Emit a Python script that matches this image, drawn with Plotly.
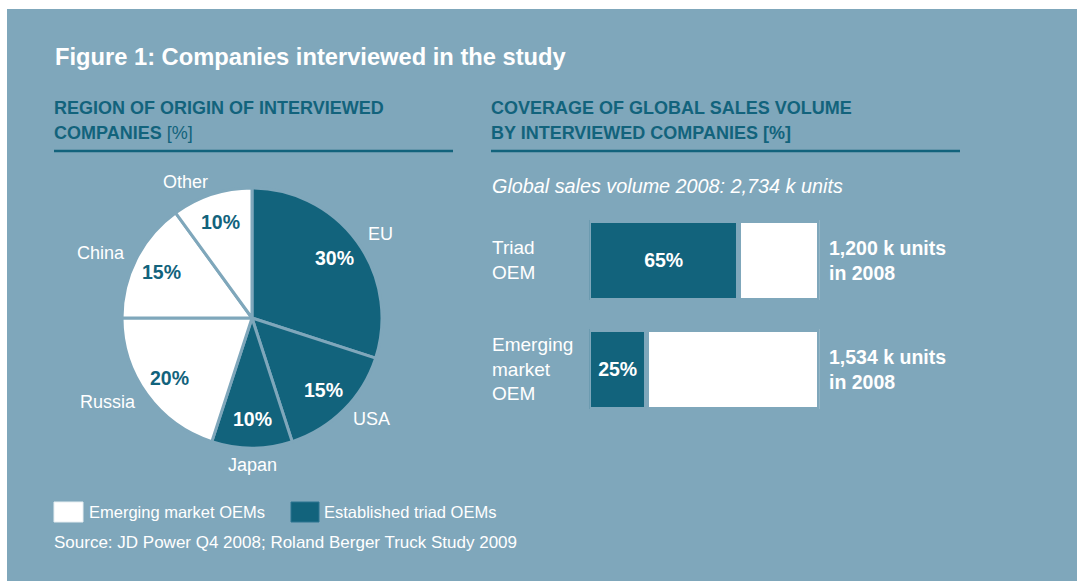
import math
import plotly.graph_objects as go

W, H = 1077, 581

# ---------------- data ----------------
regions = ["EU", "USA", "Japan", "Russia", "China", "Other"]
region_share = [30, 15, 10, 20, 15, 10]
region_group = ["triad", "triad", "triad", "emerging", "emerging", "emerging"]

oem_types = ["Emerging<br>market<br>OEM", "Triad<br>OEM"]
coverage_pct = [25, 65]
sales_k_units = [1534, 1200]
sales_year = 2008

legend_labels = ["Emerging market OEMs", "Established triad OEMs"]
legend_groups = ["emerging", "triad"]

title_text = "Figure 1: Companies interviewed in the study"
left_heading = ["REGION OF ORIGIN OF INTERVIEWED", "COMPANIES <span style='font-weight:normal'>[%]</span>"]
right_heading = ["COVERAGE OF GLOBAL SALES VOLUME", "BY INTERVIEWED COMPANIES [%]"]
source_text = "Source: JD Power Q4 2008; Roland Berger Truck Study 2009"

# ---------------- style ----------------
BG = "#7fa7bb"
DARK = "#12637c"
WHITE = "#ffffff"
FONT = "Liberation Sans, Arial, sans-serif"


def px(x):
    return x / W


def py(y):
    return 1 - y / H


group_color = {"triad": DARK, "emerging": WHITE}
slice_colors = [group_color[g] for g in region_group]
text_colors = [WHITE if g == "triad" else DARK for g in region_group]

CX, CY, R = 252, 318, 130

fig = go.Figure()

fig.add_trace(go.Pie(
    labels=regions, values=region_share, sort=False, direction="clockwise", rotation=0,
    marker=dict(colors=slice_colors, line=dict(color=BG, width=3)),
    textinfo="none", hoverinfo="label+percent", showlegend=False,
    domain=dict(x=[px(CX - R), px(CX + R)], y=[py(CY + R), py(CY - R)]),
))

# bars
XL, XR = 589.2, 819.8
YB, YT = 423.5, 205.5
fig.add_trace(go.Bar(
    y=oem_types, x=coverage_pct, orientation="h", width=0.734,
    marker=dict(color=DARK, line=dict(color=BG, width=5)),
    text=[f"<b>{v}%</b>" for v in coverage_pct], textposition="inside",
    insidetextanchor="middle", constraintext="none",
    textfont=dict(color=WHITE, size=19.5, family=FONT),
    showlegend=False, hoverinfo="x",
))
fig.add_trace(go.Bar(
    y=oem_types, x=[100 - v for v in coverage_pct], orientation="h", width=0.734,
    marker=dict(color=WHITE, line=dict(color=BG, width=5)),
    showlegend=False, hoverinfo="skip",
))

annotations = []
PAD = 2  # annotation inner padding in px


def ann(text, x, y, size, color=WHITE, xanchor="left", yanchor="middle", xref="paper", yref="paper", align="left"):
    xs = -PAD if xanchor == "left" else (PAD if xanchor == "right" else 0)
    annotations.append(dict(text=text, x=x, y=y, xref=xref, yref=yref, xanchor=xanchor, yanchor=yanchor,
                            xshift=xs, showarrow=False, align=align,
                            font=dict(family=FONT, size=size, color=color)))


# pie labels computed from slice angles
total = sum(region_share)
cum = 0
for name, v, tc in zip(regions, region_share, text_colors):
    mid = (cum + v / 2) / total * 2 * math.pi
    cum += v
    s, c = math.sin(mid), math.cos(mid)
    ann(f"<b>{v}%</b>", px(CX + 0.78 * R * s), py(CY - 0.78 * R * c), 19.5, color=tc, xanchor="center")
    ro = 1.1 * R
    xa = "left" if s > 0.2 else ("right" if s < -0.2 else "center")
    ann(name, px(CX + ro * s), py(CY - ro * c + (4 if xa == "center" else 0)), 18, xanchor=xa)

# bar labels
for cat, units in zip(oem_types, sales_k_units):
    ann(cat, px(492), cat, 19, yref="y")
    ann(f"<b>{units:,} k units<br>in {sales_year}</b>", px(829), cat, 19.5, yref="y")

# texts
ann(f"<b>{title_text}</b>", px(55), py(57), 23.7)
ann(f"<b>{left_heading[0]}</b>", px(54), py(108), 18, color=DARK)
ann(f"<b>{left_heading[1]}</b>", px(54), py(132.5), 18, color=DARK)
ann(f"<b>{right_heading[0]}</b>", px(491), py(108), 18, color=DARK)
ann(f"<b>{right_heading[1]}</b>", px(491), py(132.5), 18, color=DARK)
ann(f"<i>Global sales volume {sales_year}: {sum(sales_k_units):,} k units</i>", px(492), py(186), 19.8)
ann(source_text, px(54), py(542), 17)

shapes = [
    dict(type="rect", xref="paper", yref="paper", x0=px(7), x1=px(1077), y0=py(581), y1=py(9),
         fillcolor=BG, line=dict(width=0), layer="below"),
    dict(type="line", xref="paper", yref="paper", x0=px(54), x1=px(453), y0=py(151), y1=py(151),
         line=dict(color=DARK, width=2.5)),
    dict(type="line", xref="paper", yref="paper", x0=px(491), x1=px(960), y0=py(151), y1=py(151),
         line=dict(color=DARK, width=2.5)),
]

# legend swatches
legend_x = [(54, 83, 89), (291, 319, 324)]
for (x0, x1, xt), lab, g in zip(legend_x, legend_labels, legend_groups):
    shapes.append(dict(type="rect", xref="paper", yref="paper", x0=px(x0), x1=px(x1), y0=py(522), y1=py(502),
                       fillcolor=group_color[g], line=dict(color="#e6eef2" if g == "emerging" else "#2c7490", width=1)))
    ann(lab, px(xt), py(512), 16.5)

fig.update_layout(
    width=W, height=H, margin=dict(l=0, r=0, t=0, b=0),
    paper_bgcolor=WHITE, plot_bgcolor="rgba(0,0,0,0)",
    barmode="stack", bargap=0,
    xaxis=dict(domain=[px(XL), px(XR)], range=[0, 100], visible=False, fixedrange=True),
    yaxis=dict(domain=[py(YB), py(YT)], range=[-0.5, 1.5], type="category",
               categoryorder="array", categoryarray=oem_types, visible=False, fixedrange=True),
    annotations=annotations, shapes=shapes,
    font=dict(family=FONT, color=WHITE),
    showlegend=False,
)

fig.write_html("out.html")
